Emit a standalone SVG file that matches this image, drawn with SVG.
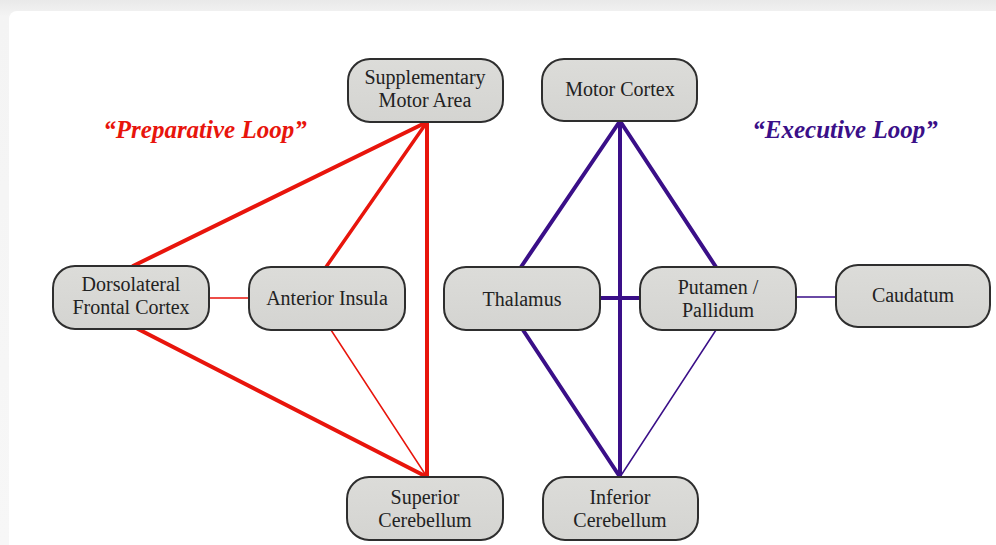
<svg xmlns="http://www.w3.org/2000/svg" width="996" height="545" viewBox="0 0 996 545">
<defs>
<linearGradient id="bg" x1="0" y1="0" x2="0" y2="1">
<stop offset="0" stop-color="#e9e9e9"/>
<stop offset="0.03" stop-color="#f4f4f4"/>
<stop offset="1" stop-color="#f7f7f7"/>
</linearGradient>
<linearGradient id="nf" x1="0" y1="0" x2="0" y2="1">
<stop offset="0" stop-color="#dcdcd9"/>
<stop offset="1" stop-color="#d4d4d1"/>
</linearGradient>
</defs>
<style>
.node rect{fill:url(#nf);stroke:#2e2e2e;stroke-width:2}
.node text{font-family:"Liberation Serif","Times New Roman",serif;font-size:20px;fill:#222;text-anchor:middle}
.red{stroke:#e8150c;fill:none;stroke-linecap:round}
.pur{stroke:#3a0f88;fill:none;stroke-linecap:round}
.thick{stroke-width:4}
.mid{stroke-width:3.5}
.thin{stroke-width:1.5}
.title{font-family:"Liberation Serif","Times New Roman",serif;font-size:25px;font-weight:bold;font-style:italic;text-anchor:middle}
</style>
<rect x="0" y="0" width="996" height="545" fill="url(#bg)"/>
<rect x="9" y="11" width="995" height="545" rx="8" fill="#ffffff"/>

<g id="connectors">
<line class="red thick" x1="427" y1="122" x2="133" y2="266"/>
<line class="red mid" x1="427" y1="122" x2="326" y2="267"/>
<line class="red thick" x1="427" y1="122" x2="427" y2="477"/>
<line class="red thick" x1="138" y1="329" x2="427" y2="477"/>
<line class="red thin" x1="331" y1="330" x2="427" y2="477"/>
<line class="red thin" x1="209" y1="298" x2="249" y2="298"/>
<line class="pur thick" x1="620" y1="121" x2="521" y2="267"/>
<line class="pur thick" x1="620" y1="121" x2="716" y2="267"/>
<line class="pur thick" x1="620" y1="121" x2="620" y2="477"/>
<line class="pur thick" x1="600" y1="298" x2="640" y2="298"/>
<line class="pur thick" x1="523" y1="330" x2="620" y2="477"/>
<line class="pur thin" x1="716" y1="330" x2="620" y2="477"/>
<line class="pur thin" x1="796" y1="297" x2="836" y2="297"/>
</g>

<text class="title" x="205" y="138" fill="#e8150c">“Preparative Loop”</text>
<text class="title" x="845" y="138" fill="#3a0f88">“Executive Loop”</text>

<g id="sma" class="node"><rect x="348" y="59" width="155" height="63" rx="22"/><text x="425" y="84">Supplementary</text><text x="425" y="107">Motor Area</text></g>
<g id="mc" class="node"><rect x="542" y="59" width="155" height="62" rx="22"/><text x="620" y="96">Motor Cortex</text></g>
<g id="dfc" class="node"><rect x="53" y="266" width="156" height="63" rx="22"/><text x="131" y="291">Dorsolateral</text><text x="131" y="314">Frontal Cortex</text></g>
<g id="ai" class="node"><rect x="249" y="267" width="156" height="63" rx="22"/><text x="327" y="305">Anterior Insula</text></g>
<g id="thal" class="node"><rect x="444" y="267" width="156" height="63" rx="22"/><text x="522" y="306">Thalamus</text></g>
<g id="put" class="node"><rect x="640" y="267" width="156" height="63" rx="22"/><text x="718" y="294">Putamen /</text><text x="718" y="317">Pallidum</text></g>
<g id="cau" class="node"><rect x="836" y="265" width="154" height="62" rx="22"/><text x="913" y="302">Caudatum</text></g>
<g id="sc" class="node"><rect x="347" y="477" width="156" height="63" rx="22"/><text x="425" y="504">Superior</text><text x="425" y="527">Cerebellum</text></g>
<g id="ic" class="node"><rect x="543" y="477" width="155" height="63" rx="22"/><text x="620" y="504">Inferior</text><text x="620" y="527">Cerebellum</text></g>
</svg>
